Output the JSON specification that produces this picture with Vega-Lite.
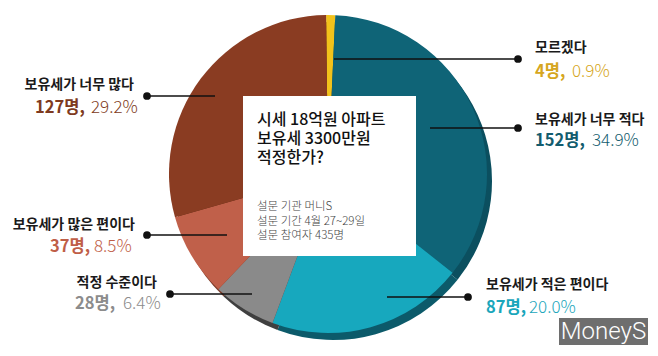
{
  "$schema": "https://vega.github.io/schema/vega-lite/v6.json",
  "width": 658,
  "height": 356,
  "autosize": {"type": "fit", "contains": "padding"},
  "padding": {"left": 0, "top": 0, "right": 2, "bottom": 8},
  "background": "white",
  "config": {"view": {"stroke": null}, "font": "Noto Sans CJK KR"},
  "datasets": {
    "pie": [
      {"cat": "모르겠다", "n": 4, "ord": 1},
      {"cat": "보유세가 너무 적다", "n": 152, "ord": 2},
      {"cat": "보유세가 적은 편이다", "n": 87, "ord": 3},
      {"cat": "적정 수준이다", "n": 28, "ord": 4},
      {"cat": "보유세가 많은 편이다", "n": 37, "ord": 5},
      {"cat": "보유세가 너무 많다", "n": 127, "ord": 6}
    ],
    "labels": [
      {"cat": "모르겠다", "side": "R", "lx": 535, "ly": 48, "bold": "4명,", "bx": 535, "light": "0.9%", "gx": 572, "vy": 72, "px": 518, "py": 59, "ex": 334},
      {"cat": "보유세가 너무 적다", "side": "R", "lx": 535, "ly": 120, "bold": "152명,", "bx": 535, "light": "34.9%", "gx": 592, "vy": 141, "px": 518, "py": 128, "ex": 430},
      {"cat": "보유세가 적은 편이다", "side": "R", "lx": 486, "ly": 285, "bold": "87명,", "bx": 486, "light": "20.0%", "gx": 529, "vy": 308, "px": 468, "py": 297, "ex": 387},
      {"cat": "적정 수준이다", "side": "L", "lx": 157, "ly": 283, "bold": "28명,", "bx": 75, "light": "6.4%", "gx": 123, "vy": 304, "px": 170, "py": 294, "ex": 252},
      {"cat": "보유세가 많은 편이다", "side": "L", "lx": 135, "ly": 225, "bold": "37명,", "bx": 50, "light": "8.5%", "gx": 94, "vy": 247, "px": 147, "py": 235, "ex": 227},
      {"cat": "보유세가 너무 많다", "side": "L", "lx": 134, "ly": 85, "bold": "127명,", "bx": 35, "light": "29.2%", "gx": 91, "vy": 108, "px": 147, "py": 96, "ex": 215}
    ],
    "box": [{"x": 243, "x2": 416, "y": 96, "y2": 256}],
    "boxtitle": [
      {"text": "시세 18억원 아파트\n보유세 3300만원\n적정한가?", "x": 257, "y": 120}
    ],
    "boxnote": [
      {"text": "설문 기관 머니S\n설문 기간 4월 27~29일\n설문 참여자 435명", "x": 257, "y": 207}
    ],
    "mark": [{"text": "MoneyS", "x": 559, "x2": 648, "y": 318, "y2": 345, "cx": 603.5, "cy": 331.5}]
  },
  "resolve": {"scale": {"color": "independent"}},
  "layer": [
    {
      "data": {"name": "pie"},
      "mark": {"type": "arc", "radius": 159, "xOffset": 5, "yOffset": 7},
      "encoding": {
        "theta": {"field": "n", "type": "quantitative", "stack": true, "scale": {"range": [-0.012, 6.2712]}},
        "order": {"field": "ord", "type": "quantitative"},
        "color": {"field": "cat", "type": "nominal", "legend": null,
          "scale": {"domain": ["모르겠다", "보유세가 너무 적다", "보유세가 적은 편이다", "적정 수준이다", "보유세가 많은 편이다", "보유세가 너무 많다"],
                    "range": ["#0b4f5f", "#0b4f5f", "#0c5a6a", "#3f3f3f", "#7a3a28", "#5a2a16"]}}
      }
    },
    {
      "data": {"name": "pie"},
      "mark": {"type": "arc", "radius": 159},
      "encoding": {
        "theta": {"field": "n", "type": "quantitative", "stack": true, "scale": {"range": [-0.012, 6.2712]}},
        "order": {"field": "ord", "type": "quantitative"},
        "color": {"field": "cat", "type": "nominal", "legend": null,
          "scale": {"domain": ["모르겠다", "보유세가 너무 적다", "보유세가 적은 편이다", "적정 수준이다", "보유세가 많은 편이다", "보유세가 너무 많다"],
                    "range": ["#F2C21B", "#0F6477", "#17A8BE", "#8A8A8A", "#C0604A", "#8A3C22"]}}
      }
    },
    {
      "data": {"name": "box"},
      "mark": {"type": "rect", "color": "white"},
      "encoding": {
        "x": {"field": "x", "type": "quantitative", "scale": {"domain": [0, 656], "nice": false, "zero": false}, "axis": null},
        "x2": {"field": "x2"},
        "y": {"field": "y", "type": "quantitative", "scale": {"domain": [0, 348], "reverse": true, "nice": false, "zero": false}, "axis": null},
        "y2": {"field": "y2"}
      }
    },
    {
      "data": {"name": "boxtitle"},
      "mark": {"type": "text", "align": "left", "baseline": "middle", "lineBreak": "\n", "lineHeight": 19, "fontSize": 16, "fontWeight": 500, "color": "#111111"},
      "encoding": {
        "x": {"field": "x", "type": "quantitative"},
        "y": {"field": "y", "type": "quantitative"},
        "text": {"field": "text"}
      }
    },
    {
      "data": {"name": "boxnote"},
      "mark": {"type": "text", "align": "left", "baseline": "middle", "lineBreak": "\n", "lineHeight": 14.5, "fontSize": 11.5, "fontWeight": 300, "color": "#444444"},
      "encoding": {
        "x": {"field": "x", "type": "quantitative"},
        "y": {"field": "y", "type": "quantitative"},
        "text": {"field": "text"}
      }
    },
    {
      "data": {"name": "labels"},
      "mark": {"type": "rule", "color": "#111111", "strokeWidth": 1.5},
      "encoding": {
        "x": {"field": "px", "type": "quantitative"},
        "x2": {"field": "ex"},
        "y": {"field": "py", "type": "quantitative"}
      }
    },
    {
      "data": {"name": "labels"},
      "mark": {"type": "point", "filled": true, "color": "#111111", "size": 60, "opacity": 1},
      "encoding": {
        "x": {"field": "px", "type": "quantitative"},
        "y": {"field": "py", "type": "quantitative"}
      }
    },
    {
      "data": {"name": "labels"},
      "transform": [{"filter": "datum.side === 'L'"}],
      "mark": {"type": "text", "align": "right", "baseline": "middle", "fontSize": 14, "fontWeight": "bold", "color": "#1a1a1a"},
      "encoding": {
        "x": {"field": "lx", "type": "quantitative"},
        "y": {"field": "ly", "type": "quantitative"},
        "text": {"field": "cat"}
      }
    },
    {
      "data": {"name": "labels"},
      "transform": [{"filter": "datum.side === 'R'"}],
      "mark": {"type": "text", "align": "left", "baseline": "middle", "fontSize": 14, "fontWeight": "bold", "color": "#1a1a1a"},
      "encoding": {
        "x": {"field": "lx", "type": "quantitative"},
        "y": {"field": "ly", "type": "quantitative"},
        "text": {"field": "cat"}
      }
    },
    {
      "data": {"name": "labels"},
      "mark": {"type": "text", "align": "left", "baseline": "middle", "fontSize": 16.5, "fontWeight": "bold"},
      "encoding": {
        "x": {"field": "bx", "type": "quantitative"},
        "y": {"field": "vy", "type": "quantitative"},
        "text": {"field": "bold"},
        "color": {"field": "cat", "type": "nominal", "legend": null,
          "scale": {"domain": ["모르겠다", "보유세가 너무 적다", "보유세가 적은 편이다", "적정 수준이다", "보유세가 많은 편이다", "보유세가 너무 많다"],
                    "range": ["#D6A620", "#135C6E", "#1AA6BB", "#8C8C8C", "#BF5E47", "#7E3A20"]}}
      }
    },
    {
      "data": {"name": "labels"},
      "mark": {"type": "text", "align": "left", "baseline": "middle", "fontSize": 17, "fontWeight": 300},
      "encoding": {
        "x": {"field": "gx", "type": "quantitative"},
        "y": {"field": "vy", "type": "quantitative"},
        "text": {"field": "light"},
        "color": {"field": "cat", "type": "nominal", "legend": null,
          "scale": {"domain": ["모르겠다", "보유세가 너무 적다", "보유세가 적은 편이다", "적정 수준이다", "보유세가 많은 편이다", "보유세가 너무 많다"],
                    "range": ["#D6A620", "#135C6E", "#1AA6BB", "#8C8C8C", "#BF5E47", "#7E3A20"]}}
      }
    },
    {
      "data": {"name": "mark"},
      "mark": {"type": "rect", "color": "#6e6e6e"},
      "encoding": {
        "x": {"field": "x", "type": "quantitative"},
        "x2": {"field": "x2"},
        "y": {"field": "y", "type": "quantitative"},
        "y2": {"field": "y2"}
      }
    },
    {
      "data": {"name": "mark"},
      "mark": {"type": "text", "align": "center", "baseline": "middle", "fontSize": 24, "fontWeight": 300, "font": "Roboto", "color": "white"},
      "encoding": {
        "x": {"field": "cx", "type": "quantitative"},
        "y": {"field": "cy", "type": "quantitative"},
        "text": {"field": "text"}
      }
    }
  ]
}
